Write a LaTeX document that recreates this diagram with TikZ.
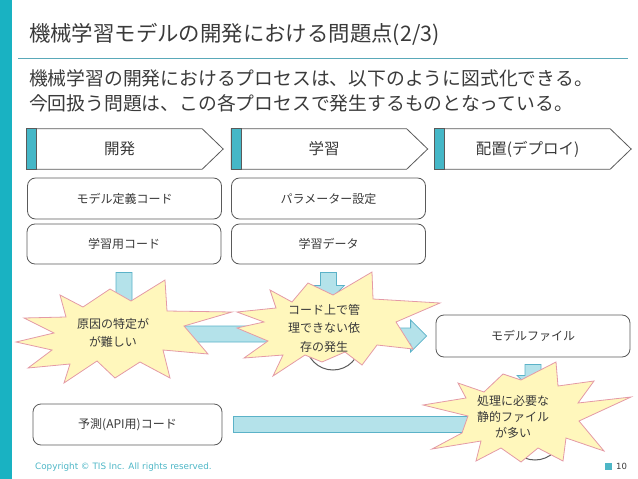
\documentclass[tikz,border=0pt]{standalone}
\usepackage{fontspec}
\setmainfont{Noto Sans CJK JP}
\newfontfamily\footfont{DejaVu Sans}
\usetikzlibrary{backgrounds}

\definecolor{barteal}{HTML}{19B2C2}
\definecolor{ruleteal}{HTML}{5AA9B9}
\definecolor{stripteal}{HTML}{45B7C7}
\definecolor{inkgray}{HTML}{3A3A3A}
\definecolor{edgegray}{HTML}{5A5A5A}
\definecolor{arrfill}{HTML}{B4E2EA}
\definecolor{arrline}{HTML}{5BB2C8}
\definecolor{burstfill}{HTML}{FFF7BC}
\definecolor{burstline}{HTML}{E49AA6}
\definecolor{footteal}{HTML}{4DB6C6}

% fat block arrow: start, angle, length
\newcommand\fatarr[3]{%
  \begin{scope}[shift={(#1)}, rotate=#2]
    \filldraw[blockarr] (0,-8) -- (#3-16,-8) -- (#3-16,-16) -- (#3,0)
      -- (#3-16,16) -- (#3-16,8) -- (0,8) -- cycle;
  \end{scope}}

\begin{document}
\begin{tikzpicture}[x=1pt, y=-1pt, text=inkgray,
    box/.style={draw=edgegray, line width=0.8pt, rounded corners=8pt, fill=white,
      minimum width=194pt, minimum height=41pt, font=\fontsize{12}{14}\selectfont},
    head/.style={minimum width=165pt, minimum height=40pt, inner sep=0pt,
      font=\fontsize{15.5}{18}\selectfont},
    chev/.style={draw=edgegray, line width=0.8pt, fill=white},
    strip/.style={draw=edgegray, line width=0.8pt, fill=stripteal},
    blockarr/.style={draw=arrline, line width=0.8pt, fill=arrfill},
    burst/.style={draw=burstline, line width=0.8pt, fill=burstfill},
    note/.style={align=center, inner sep=0pt, font=\fontsize{12}{17.5}\selectfont},
    loop/.style={draw=edgegray, line width=1pt}]
  \useasboundingbox (0,0) rectangle (638,479);
  % side bar and title
  \fill[barteal] (0,0) rectangle (12,479);
  \node[anchor=west, inner sep=0pt, font=\fontsize{21.4}{25}\selectfont] (title) at (29,34)
       {機械学習モデルの開発における問題点(2/3)};
  \draw[ruleteal, line width=1pt] (18,58) -- (628,58);
  \node[anchor=west, align=left, inner sep=0pt, font=\fontsize{18.8}{25}\selectfont] (lead)
       at (29,90.5) {機械学習の開発におけるプロセスは、以下のように図式化できる。\\
       今回扱う問題は、この各プロセスで発生するものとなっている。};
  % process headers
  \foreach \name/\cx/\txt in {dev/119.5/開発, learn/324/学習, deploy/527.5/配置(デプロイ)} {
    \node[head] (\name) at (\cx,149) {\txt};
    \begin{scope}[on background layer]
      \draw[chev] ([xshift=-10pt]\name.north west) -- (\name.north east)
        -- ([xshift=21pt]\name.east) -- (\name.south east)
        -- ([xshift=-10pt]\name.south west) -- cycle;
      \draw[strip] ([xshift=-10pt]\name.north west) rectangle (\name.south west);
    \end{scope}
  }
  % boxes
  \node[box] (def) at (124.5,198.5) {モデル定義コード};
  \node[box] (param) at (328.5,198.5) {パラメーター設定};
  \node[box, minimum height=40pt] (code) at (124,244) {学習用コード};
  \node[box, minimum height=40pt] (data) at (328.5,244) {学習データ};
  \node[box, minimum height=42pt] (model) at (533,336) {モデルファイル};
  \node[box, minimum width=189pt] (pred) at (127.5,424.5) {予測(API用)コード};
  % arrows
  \coordinate (hot) at (113,334);
  \fatarr{[yshift=-8pt]code.south}{-90}{50}
  \fatarr{[yshift=-8pt]data.south}{-90}{29}
  \fatarr{hot}{0}{187}
  \fatarr{[xshift=-70pt]model.west}{0}{61}
  \fatarr{[yshift=-7pt]model.south}{-90}{27}
  \fatarr{[xshift=11pt]pred.east}{0}{267}
  % loops behind the bursts
  \draw[loop] (333,343) circle[radius=27pt];
  \draw[loop] (535,433) circle[radius=27pt];
  % bursts
  \filldraw[burst] (60,295) -- (83,307) -- (110,289) -- (131,301) -- (165,280)
    -- (167,311) -- (232,312) -- (184,326) -- (208,354) -- (163,350) -- (170,378)
    -- (140,362) -- (115,378) -- (97,361) -- (64,383) -- (70,364) -- (28,368)
    -- (52,350) -- (16,342) -- (54,333) -- (24,318) -- (66,317) -- cycle;
  \filldraw[burst] (270,290) -- (292,302) -- (308,283) -- (333,295) -- (372,272)
    -- (373,299) -- (440,303) -- (396,322) -- (413,349) -- (377,345) -- (362,365)
    -- (345,352) -- (322,362) -- (305,355) -- (273,376) -- (283,355) -- (244,358)
    -- (268,341) -- (237,328) -- (264,322) -- (237,312) -- (276,308) -- cycle;
  \filldraw[burst] (458,383) -- (484,392) -- (503,374) -- (521,380) -- (556,362)
    -- (558,386) -- (594,381) -- (578,403) -- (631,397) -- (579,421) -- (604,451)
    -- (566,438) -- (563,461) -- (538,448) -- (521,462) -- (501,448) -- (476,461)
    -- (481,441) -- (432,449) -- (462,433) -- (468,416) -- (423,405) -- (466,398)
    -- cycle;
  \node[note] (cause) at (113,333) {原因の特定が\\が難しい};
  \node[note, font=\fontsize{12}{18.5}\selectfont] (depend) at (324,328)
       {コード上で管\\理できない依\\存の発生};
  \node[note, font=\fontsize{12}{16}\selectfont] (static) at (513,417)
       {処理に必要な\\静的ファイル\\が多い};
  % footer
  \node[anchor=west, inner sep=0pt, text=footteal, font=\footfont\fontsize{8.8}{10}\selectfont]
       (copy) at (35,467) {Copyright © TIS Inc. All rights reserved.};
  \fill[footteal] (605,463) rectangle (612,470);
  \node[anchor=west, inner sep=0pt, font=\footfont\fontsize{8.5}{10}\selectfont] (page)
       at (616,466.5) {10};
\end{tikzpicture}
\end{document}
